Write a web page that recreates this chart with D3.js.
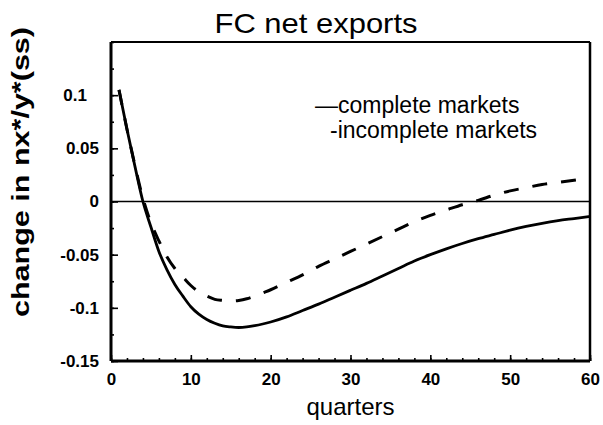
<!DOCTYPE html>
<html>
<head>
<meta charset="utf-8">
<script src="https://cdnjs.cloudflare.com/ajax/libs/d3/7.8.5/d3.min.js"></script>
<style>
  body { margin: 0; background: #fff; }
  svg { display: block; }
  .axis path { display: none; }
  .axis line { stroke: #000; stroke-width: 1.6; }
  .axis text { font-family: "Liberation Sans", Arial, sans-serif; font-size: 17px; font-weight: bold; fill: #000; }
</style>
</head>
<body>
<div id="chart"></div>
<script>
// data
var quarters = [1,2,3,4,5,6,7,8,9,10,11,12,13,14,15,16,17,18,19,20,22,24,26,28,30,32,34,36,38,40,42,44,46,48,50,52,54,56,58,60];

var complete = [0.105,0.068,0.033,0.000,-0.024,-0.047,-0.064,-0.078,-0.089,-0.099,-0.106,-0.111,-0.1145,-0.117,-0.118,-0.1185,-0.118,-0.1168,-0.1152,-0.1133,
  -0.1085,-0.1025,-0.0965,-0.090,-0.0835,-0.077,-0.070,-0.063,-0.056,-0.050,-0.0445,-0.0395,-0.035,-0.031,-0.027,-0.0235,-0.0205,-0.018,-0.016,-0.014];

var incomplete = [0.105,0.068,0.034,0.003,-0.020,-0.037,-0.052,-0.063,-0.071,-0.079,-0.085,-0.089,-0.092,-0.093,-0.0935,-0.093,-0.0915,-0.089,-0.086,-0.083,
  -0.076,-0.069,-0.061,-0.054,-0.047,-0.040,-0.033,-0.026,-0.019,-0.013,-0.008,-0.003,0.001,0.006,0.010,0.013,0.016,0.018,0.020,0.022];

var yTicks = [-0.15, -0.1, -0.05, 0, 0.05, 0.1];
var yTickLabels = ["-0.15", "-0.1", "-0.05", "0", "0.05", "0.1"];
var xTicks = [0, 10, 20, 30, 40, 50, 60];
var xTickLabels = ["0", "10", "20", "30", "40", "50", "60"];

var title = "FC net exports";
var xLabel = "quarters";
var yLabel = "change in nx*/y*(ss)";
var legendLabels = ["\u2014complete markets", "-incomplete markets"];

var margin = {top: 42, right: 13, bottom: 64, left: 111},
    width = 603 - margin.left - margin.right,
    height = 425 - margin.top - margin.bottom;

var x = d3.scaleLinear().domain([0, 60]).range([0, width]);
var y = d3.scaleLinear().domain([-0.15, 0.15]).range([height, 0]);

var svg = d3.select("#chart").append("svg")
    .attr("width", width + margin.left + margin.right)
    .attr("height", height + margin.top + margin.bottom);

var g = svg.append("g")
    .attr("transform", "translate(" + margin.left + "," + margin.top + ")");

// TITLE
svg.append("text")
    .attr("x", 316)
    .attr("y", 33)
    .attr("text-anchor", "middle")
    .attr("textLength", 203)
    .attr("lengthAdjust", "spacingAndGlyphs")
    .style("font-family", "Liberation Sans, Arial, sans-serif")
    .style("font-size", "28px")
    .text(title);

// MINOR TICKS
g.append("g")
    .attr("class", "axis")
    .call(d3.axisLeft(y).tickValues(d3.range(-0.15, 0.151, 0.025)).tickSize(-3).tickFormat(""));

g.append("g")
    .attr("class", "axis")
    .attr("transform", "translate(0," + height + ")")
    .call(d3.axisBottom(x).tickValues(d3.range(0, 61, 2)).tickSize(-3).tickFormat(""));

// MAJOR TICKS + LABELS
var yAxis = g.append("g")
    .attr("class", "axis")
    .call(d3.axisLeft(y).tickValues(yTicks).tickSize(-7).tickPadding(12)
      .tickFormat(function(d, i) { return yTickLabels[i]; }));

// the 0.1 label sits further left in the original
yAxis.selectAll(".tick text").filter(function(d) { return d === 0.1; }).attr("dx", -12);

g.append("g")
    .attr("class", "axis")
    .attr("transform", "translate(0," + height + ")")
    .call(d3.axisBottom(x).tickValues(xTicks).tickSize(-6).tickPadding(12)
      .tickFormat(function(d, i) { return xTickLabels[i]; }));

// FRAME
g.append("line").attr("x1", 0).attr("x2", 0).attr("y1", 0).attr("y2", height)
    .attr("stroke", "#000").attr("stroke-width", 3);
g.append("line").attr("x1", 0).attr("x2", width).attr("y1", height).attr("y2", height)
    .attr("stroke", "#000").attr("stroke-width", 3);
g.append("line").attr("x1", 0).attr("x2", width).attr("y1", 0).attr("y2", 0)
    .attr("stroke", "#000").attr("stroke-width", 2);
g.append("line").attr("x1", width).attr("x2", width).attr("y1", 0).attr("y2", height)
    .attr("stroke", "#000").attr("stroke-width", 2.5);

// ZERO LINE
g.append("line")
    .attr("x1", 0).attr("x2", width)
    .attr("y1", y(0)).attr("y2", y(0))
    .attr("stroke", "#000").attr("stroke-width", 1.6);

// LINES
var line = d3.line()
    .curve(d3.curveMonotoneX)
    .x(function(d) { return x(d[0]); })
    .y(function(d) { return y(d[1]); });

g.append("path")
    .datum(quarters.map(function(q, i) { return [q, complete[i]]; }))
    .attr("fill", "none")
    .attr("stroke", "#000")
    .attr("stroke-width", 2.8)
    .attr("d", line);

g.append("path")
    .datum(quarters.map(function(q, i) { return [q, incomplete[i]]; }))
    .attr("fill", "none")
    .attr("stroke", "#000")
    .attr("stroke-width", 3)
    .attr("stroke-dasharray", "15,14")
    .attr("d", line);

// LEGEND (plain text, as in the original)
svg.append("text")
    .attr("x", 315).attr("y", 113)
    .style("font-family", "Liberation Sans, Arial, sans-serif")
    .style("font-size", "23px")
    .text(legendLabels[0]);

svg.append("text")
    .attr("x", 330).attr("y", 138)
    .style("font-family", "Liberation Sans, Arial, sans-serif")
    .style("font-size", "23px")
    .text(legendLabels[1]);

// AXIS LABELS
svg.append("text")
    .attr("x", margin.left + width / 2)
    .attr("y", 415)
    .attr("text-anchor", "middle")
    .style("font-family", "Liberation Sans, Arial, sans-serif")
    .style("font-size", "24px")
    .text(xLabel);

svg.append("text")
    .attr("transform", "translate(29,172) rotate(-90)")
    .attr("text-anchor", "middle")
    .attr("textLength", 290)
    .attr("lengthAdjust", "spacingAndGlyphs")
    .style("font-family", "Liberation Sans, Arial, sans-serif")
    .style("font-size", "24px")
    .style("font-weight", "bold")
    .text(yLabel);
</script>
</body>
</html>
